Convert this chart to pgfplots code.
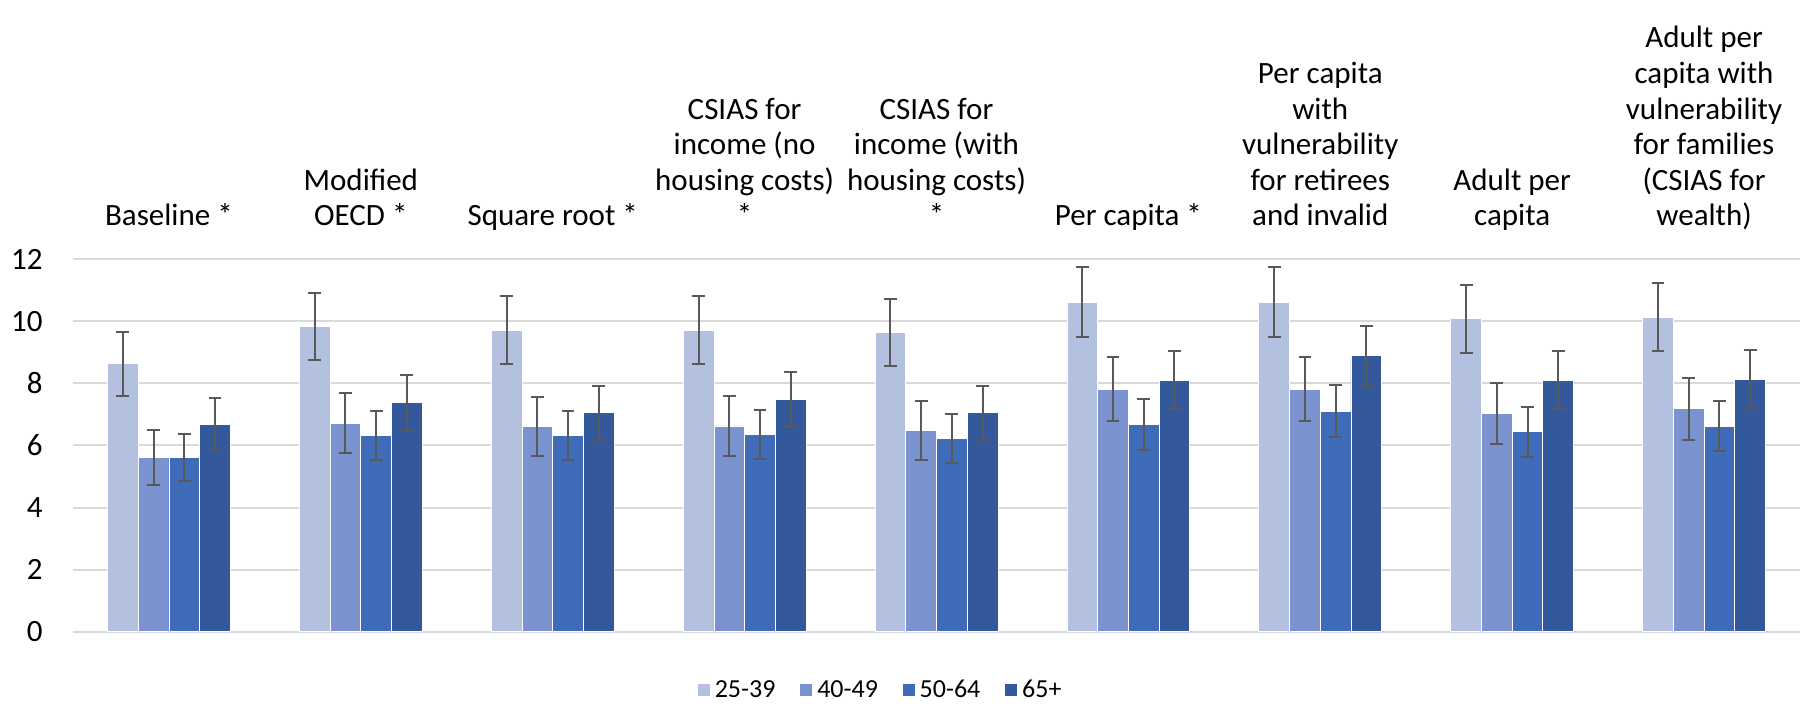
\documentclass[border=0pt]{standalone}
\usepackage{fontspec}
\setmainfont{Carlito}
\usepackage{pgfplots}
\pgfplotsset{compat=1.18}
\usepackage{pgfplotstable}

\definecolor{cA}{HTML}{B4C0E0}
\definecolor{cB}{HTML}{7A93D0}
\definecolor{cC}{HTML}{3F6BB9}
\definecolor{cD}{HTML}{33599C}
\definecolor{errc}{HTML}{595959}
\definecolor{gridc}{HTML}{D9D9D9}

% x = group, y = value, e = half width of error bar
\pgfplotstableread{
x y e
0 8.63 1.03
1 9.83 1.09
2 9.72 1.09
3 9.72 1.09
4 9.63 1.08
5 10.62 1.13
6 10.62 1.13
7 10.08 1.10
8 10.14 1.11
}\serA
\pgfplotstableread{
x y e
0 5.61 0.88
1 6.72 0.96
2 6.61 0.96
3 6.63 0.96
4 6.48 0.95
5 7.81 1.03
6 7.81 1.03
7 7.03 0.98
8 7.19 1.00
}\serB
\pgfplotstableread{
x y e
0 5.62 0.75
1 6.33 0.79
2 6.33 0.79
3 6.35 0.79
4 6.23 0.78
5 6.68 0.81
6 7.11 0.83
7 6.44 0.80
8 6.62 0.80
}\serC
\pgfplotstableread{
x y e
0 6.68 0.85
1 7.38 0.90
2 7.06 0.87
3 7.48 0.90
4 7.06 0.87
5 8.10 0.93
6 8.89 0.97
7 8.10 0.93
8 8.14 0.93
}\serD

\begin{document}
\begin{tikzpicture}
\useasboundingbox (0,0) rectangle (902pt,353pt);
\begin{axis}[
    at={(36.5pt,37.15pt)}, anchor=south west,
    scale only axis,
    width=863.5pt, height=186.2pt,
    ybar=0pt, bar width=0.16,
    xmin=-0.5, xmax=8.5,
    ymin=0, ymax=12,
    ytick={0,2,...,12},
    xtick={0,...,8},
    xticklabels={
        {Baseline *},
        {Modified\\OECD *},
        {Square root *},
        {CSIAS for\\income (no\\housing costs)\\*},
        {CSIAS for\\income (with\\housing costs)\\*},
        {Per capita *},
        {Per capita\\with\\vulnerability\\for retirees\\and invalid},
        {Adult per\\capita},
        {Adult per\\capita with\\vulnerability\\for families\\(CSIAS for\\wealth)}},
    xticklabel pos=upper,
    xticklabel style={align=center, anchor=south, inner sep=0pt,
        text depth=3.8pt, yshift=12.7pt,
        font=\fontsize{15.5}{17.8}\selectfont},
    yticklabel style={anchor=east, inner sep=0pt, xshift=-15pt,
        font=\fontsize{15.5}{17.8}\selectfont},
    /pgf/number format/assume math mode=true,
    major tick length=0pt,
    axis line style={draw=none},
    ymajorgrids,
    grid style={gridc, line width=1pt},
    error bars/error bar style={errc, line width=1pt},
    error bars/error mark options={rotate=90, errc, mark size=3.2pt, line width=1pt},
    legend columns=4,
    legend style={at={(0.468,-0.157)}, anchor=center, draw=none,
        font=\fontsize{13}{15}\selectfont,
        /tikz/every even column/.append style={column sep=10pt}},
    legend image code/.code={\fill[#1] (0pt,-3.25pt) rectangle (6.5pt,3.25pt);},
]
\addplot[fill=cA, draw=white, line width=0.4pt,
    error bars/.cd, y dir=both, y explicit] table[x=x, y=y, y error=e]{\serA};
\addplot[fill=cB, draw=white, line width=0.4pt,
    error bars/.cd, y dir=both, y explicit] table[x=x, y=y, y error=e]{\serB};
\addplot[fill=cC, draw=white, line width=0.4pt,
    error bars/.cd, y dir=both, y explicit] table[x=x, y=y, y error=e]{\serC};
\addplot[fill=cD, draw=white, line width=0.4pt,
    error bars/.cd, y dir=both, y explicit] table[x=x, y=y, y error=e]{\serD};
\legend{25-39, 40-49, 50-64, 65+}
\end{axis}
\end{tikzpicture}
\end{document}
